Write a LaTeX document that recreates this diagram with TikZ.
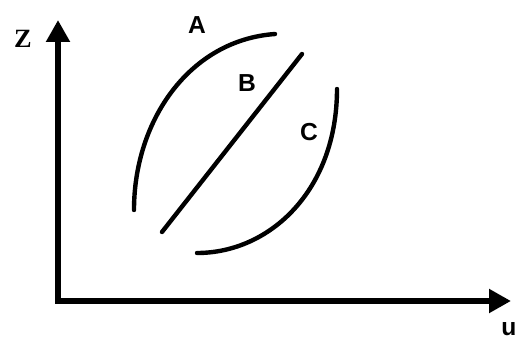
\documentclass[tikz,border=0pt]{standalone}
\usepackage{fontspec}
\setmainfont{Liberation Sans}
\newfontfamily\axisfont{Liberation Serif}
\usetikzlibrary{arrows.meta}

\begin{document}
\begin{tikzpicture}[
    x=0.02cm, y=-0.02cm,
    axis/.style={
        line width=3.1pt,
        line cap=rect,
        -{Triangle[length=12.5pt, width=13pt]}
    },
    curve/.style={line width=2.5pt, line cap=round},
    lbl/.style={
        inner sep=0pt,
        font=\fontsize{14}{16}\selectfont\bfseries
    }
]

\useasboundingbox (0,0) rectangle (518,342);

% Axes
\coordinate (o) at (58,301);
\coordinate (ztip) at (58,20);
\coordinate (utip) at (511,301);

\draw[axis] (o) -- (ztip);
\draw[axis] (o) -- (utip);

\node[lbl, font=\fontsize{15}{17}\selectfont\axisfont\bfseries] (zlbl) at (23,39) {Z};
\node[lbl] (ulbl) at (509,329) {u};

% Curves
\coordinate (a1) at (134,210);
\coordinate (a2) at (275,34);
\coordinate (b1) at (162,232);
\coordinate (b2) at (302,54);
\coordinate (c1) at (337,89);
\coordinate (c2) at (197,253);

\draw[curve] (a1) .. controls (134,120) and (190,40) .. (a2);
\draw[curve] (b1) -- (b2);
\draw[curve] (c1) .. controls (337,190) and (270,253) .. (c2);

\node[lbl] (alab) at (197,25) {A};
\node[lbl] (blab) at (247,83) {B};
\node[lbl] (clab) at (309,132) {C};

\end{tikzpicture}
\end{document}
